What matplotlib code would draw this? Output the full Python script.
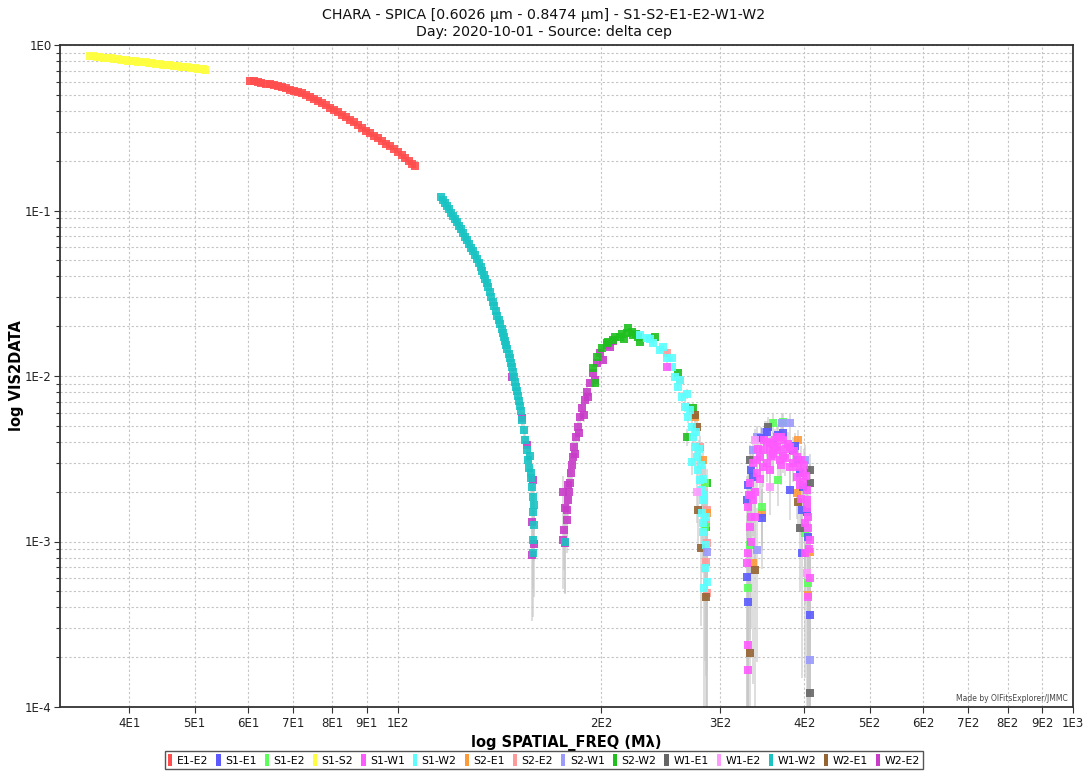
import math

import matplotlib
matplotlib.use("Agg")
import matplotlib.pyplot as plt
from matplotlib.patches import Patch
from matplotlib.ticker import FixedLocator, FuncFormatter, LogLocator, NullFormatter

# Squared visibilities of delta cep, CHARA/SPICA 2020-10-01, per baseline
# (spatial frequency in Mlambda, VIS2DATA)
S1_S2_FREQ = [35.0, 35.8, 36.7, 37.6, 38.5, 39.4, 40.3, 41.3, 42.3, 43.3, 44.4,
              45.5, 46.6, 47.7, 48.8, 50.0, 51.2, 51.9,
              35.4, 36.2, 37.1, 38.0, 38.9, 39.8, 40.8, 41.8, 42.8, 43.8, 44.9,
              46.0, 47.1, 48.2, 49.4, 50.6, 51.5]
S1_S2_VIS2 = [0.858, 0.849, 0.839, 0.830, 0.820, 0.811, 0.802, 0.793, 0.784, 0.775,
              0.767, 0.757, 0.749, 0.740, 0.732, 0.724, 0.716, 0.711,
              0.853, 0.844, 0.835, 0.825, 0.815, 0.806, 0.797, 0.788, 0.779, 0.771,
              0.762, 0.753, 0.745, 0.736, 0.728, 0.720, 0.713]

E1_E2_FREQ = [60.4, 62.0, 63.7, 65.5, 67.3, 69.2, 71.1, 73.1, 75.1, 77.2, 79.3,
              81.5, 83.7, 86.1, 88.4, 90.9, 93.4, 96.0, 98.6, 101.4, 103.8, 106.0,
              61.2, 62.8, 64.6, 66.4, 68.2, 70.1, 72.1, 74.1, 76.1, 78.2, 80.4,
              82.6, 84.9, 87.2, 89.6, 92.1, 94.7, 97.3, 100.0, 102.6, 104.9]
E1_E2_VIS2 = [0.609, 0.598, 0.585, 0.571, 0.554, 0.538, 0.520, 0.499, 0.475, 0.449,
              0.419, 0.392, 0.366, 0.343, 0.314, 0.293, 0.273, 0.254, 0.236, 0.216,
              0.199, 0.186,
              0.603, 0.592, 0.578, 0.563, 0.546, 0.529, 0.510, 0.487, 0.462, 0.434,
              0.405, 0.379, 0.354, 0.328, 0.303, 0.283, 0.263, 0.245, 0.226, 0.207,
              0.192]

W1_W2_FREQ = [115.8, 117.4, 119.0, 120.6, 122.3, 124.0, 125.7, 127.4, 129.1, 130.9,
              132.7, 134.1, 135.5, 136.8, 138.3, 139.7, 141.1, 142.6, 143.5, 144.5,
              146.0, 147.0, 148.0, 149.0, 150.0, 151.1, 152.1, 152.6, 153.7, 154.2,
              155.2, 155.8, 156.3, 157.4, 157.9, 158.5, 159.0, 158.5, 159.0, 158.5,
              158.5, 176.8,
              116.6, 118.2, 119.8, 121.4, 123.1, 124.8, 126.5, 128.2, 130.0, 131.8,
              133.4, 134.8, 136.1, 137.5, 139.0, 140.4, 141.8, 143.0, 144.0, 145.2,
              146.5, 147.5, 148.5, 149.5, 150.5, 151.6, 156.8, 157.6]
W1_W2_VIS2 = [0.1207, 0.1110, 0.1021, 0.0926, 0.0852, 0.0773, 0.0692, 0.0627, 0.0569,
              0.0509, 0.0456, 0.0408, 0.0365, 0.0322, 0.0280, 0.0247, 0.0218, 0.0192,
              0.0172, 0.0154, 0.0136, 0.01198, 0.01057, 0.00920, 0.00812, 0.00706,
              0.00614, 0.00542, 0.00472, 0.00410, 0.00357, 0.00311, 0.00278, 0.00242,
              0.00213, 0.00186, 0.00166, 0.00151, 0.00126, 0.00102, 0.000852, 0.00099,
              0.1157, 0.1065, 0.0972, 0.0888, 0.0811, 0.0732, 0.0659, 0.0597, 0.0538,
              0.0482, 0.0431, 0.0386, 0.0343, 0.0300, 0.0263, 0.0232, 0.0205, 0.0182,
              0.0163, 0.0145, 0.0128, 0.0113, 0.0099, 0.0086, 0.0076, 0.0066,
              0.0033, 0.0026]

W2_E2_FREQ = [147.4, 152.5, 155.4, 158.6, 157.8, 159.2, 158.3,
              175.4, 175.8, 176.2, 176.8, 177.8, 178.2, 178.8, 179.4, 179.9, 181.3,
              181.9, 182.5, 183.6, 184.7, 186.1, 187.6, 189.3, 190.4, 192.5, 194.7,
              197.4, 199.2, 203.8, 208.4,
              177.0, 178.5, 180.5, 183.0, 185.5, 188.5, 191.5, 195.8, 201.0, 206.0]
W2_E2_VIS2 = [0.0099, 0.00555, 0.00383, 0.00235, 0.00132, 0.00096, 0.00083,
              0.0020, 0.00102, 0.00117, 0.00098, 0.00135, 0.00155, 0.00178, 0.0020,
              0.00225, 0.0029, 0.00325, 0.00374, 0.0043, 0.00494, 0.00568, 0.00638,
              0.00716, 0.00804, 0.00903, 0.01038, 0.01193, 0.01371, 0.01539, 0.01634,
              0.0016, 0.0022, 0.0026, 0.0034, 0.0045, 0.0058, 0.0075, 0.0095, 0.0125,
              0.0150]

S2_W2_FREQ = [194.7, 195.8, 197.0, 200.3, 203.8, 208.4, 213.3, 218.2, 219.4, 223.2,
              227.0, 228.3, 240.3, 260.2, 267.8, 273.9, 286.7, 286.0,
              205.0, 210.0, 215.0, 222.0, 225.0, 216.0]
S2_W2_VIS2 = [0.01113, 0.00903, 0.01308, 0.0147, 0.01576, 0.0165, 0.01728, 0.01811,
              0.01941, 0.01769, 0.01728, 0.01612, 0.01728, 0.01038, 0.0043, 0.00638,
              0.00225, 0.00123,
              0.0160, 0.0172, 0.0180, 0.0185, 0.0179, 0.0168]

S1_W2_FREQ = [228.3, 233.6, 238.9, 244.4, 250.1, 254.4, 257.3, 260.2, 263.3, 266.2,
              269.2, 272.4, 273.9, 275.4, 272.4, 277.0, 278.5, 280.2, 281.8, 283.4,
              282.4, 283.4, 282.8, 285.7, 285.0, 286.7, 284.0,
              236.0, 247.0, 255.0, 262.0, 268.0, 271.0, 276.0, 279.0, 281.0, 283.0,
              284.0, 286.0]
S1_W2_VIS2 = [0.01769, 0.0169, 0.01576, 0.01436, 0.01279, 0.01138, 0.0099, 0.00862,
              0.0075, 0.00652, 0.00568, 0.00494, 0.0043, 0.00374, 0.00304, 0.00325,
              0.0027, 0.00235, 0.00205, 0.00178, 0.00148, 0.00129, 0.001146, 0.000953,
              0.000689, 0.000571, 0.000521,
              0.0168, 0.0150, 0.0128, 0.0095, 0.0078, 0.0062, 0.0046, 0.0036, 0.0029,
              0.0024, 0.0019, 0.0014]

S2_E2_FREQ = [250.1, 261.8, 280.2, 285.0, 286.7, 286.0, 286.7, 285.7, 286.7]
S2_E2_VIS2 = [0.01371, 0.00946, 0.00374, 0.00225, 0.00155, 0.00129, 0.000975,
              0.000755, 0.000486]

S1_W1_FREQ = [250.1, 340.0, 347.7, 355.8, 363.9, 372.2, 380.8, 389.6, 398.5, 403.1,
              405.4, 407.7, 407.7, 405.4, 332.3, 330.4, 332.3, 330.4, 328.6, 330.4,
              330.4, 347.7, 368.1, 389.6, 355.8, 380.8, 403.1, 336.1, 338.0, 400.8,
              365.9, 343.9, 359.7, 372.2, 385.1, 351.8, 394.0, 343.9, 338.0, 361.0,
              376.0, 352.0, 392.0, 398.0, 334.0, 405.0, 369.0, 357.0,
              336.0, 342.0, 349.0, 356.0, 362.0, 370.0, 378.0, 386.0, 395.0, 399.0,
              402.0, 404.0, 331.0, 334.0, 340.0, 396.0, 401.0, 406.0, 333.0, 364.0,
              374.0]
S1_W1_VIS2 = [0.0114, 0.00311, 0.00357, 0.00392, 0.0043, 0.0041, 0.00374, 0.00325,
              0.00258, 0.00178, 0.00141, 0.00102, 0.000599, 0.000464, 0.00225, 0.00162,
              0.00123, 0.000849, 0.000738, 0.000237, 0.000167, 0.00283, 0.00311,
              0.00246, 0.0027, 0.00283, 0.00205, 0.00178, 0.00141, 0.000849, 0.00357,
              0.00325, 0.0034, 0.0033, 0.0030, 0.0030, 0.0022, 0.0024, 0.0020, 0.0038,
              0.0036, 0.0040, 0.0028, 0.0023, 0.0019, 0.0012, 0.0029, 0.0033,
              0.0030, 0.0036, 0.0041, 0.0036, 0.0041, 0.0043, 0.0039, 0.0035, 0.0031,
              0.0029, 0.0025, 0.0016, 0.0019, 0.0014, 0.0026, 0.0018, 0.0013, 0.0009,
              0.0010, 0.0037, 0.0032]

S1_E1_FREQ = [351.8, 385.1, 398.5, 396.3, 405.4, 407.7, 328.6, 328.6, 330.4, 345.8,
              336.1, 380.8, 396.3, 372.2, 359.0, 392.0, 333.0,
              345.0, 388.0, 394.0, 330.0, 404.0, 366.0]
S1_E1_VIS2 = [0.00461, 0.00357, 0.00214, 0.00155, 0.00107, 0.00036, 0.00178,
              0.000613, 0.000433, 0.00138, 0.00246, 0.00205, 0.000849, 0.0045,
              0.0039, 0.0031, 0.0027,
              0.0042, 0.0038, 0.0026, 0.0022, 0.0015, 0.0044]

S2_W1_FREQ = [286.7, 340.0, 370.2, 380.8, 349.7, 340.0, 407.7, 336.1, 400.8]
S2_W1_VIS2 = [0.000868, 0.0043, 0.00518, 0.00518, 0.00461, 0.000888, 0.000192,
              0.00357, 0.00311]

S1_E2_FREQ = [285.0, 285.0, 359.7, 372.2, 365.9, 345.8, 330.4, 405.4, 400.8, 332.3]
S1_E2_VIS2 = [0.00225, 0.00123, 0.00518, 0.00529, 0.00235, 0.00162, 0.000521,
              0.000559, 0.00112, 0.000953]

S2_E1_FREQ = [283.4, 286.7, 275.4, 391.8, 336.1, 405.4, 389.6, 407.7, 345.8]
S2_E1_VIS2 = [0.00311, 0.00148, 0.00568, 0.0041, 0.000738, 0.000475, 0.00196,
              0.000868, 0.00148]

W1_E1_FREQ = [353.7, 407.7, 407.7, 394.0, 407.7, 332.3]
W1_E1_VIS2 = [0.00494, 0.0027, 0.00225, 0.0012, 0.000121, 0.00311]

W2_E1_FREQ = [275.4, 277.0, 278.5, 281.0, 285.7, 332.3, 338.0, 391.8]
W2_E1_VIS2 = [0.00585, 0.00494, 0.00155, 0.00091, 0.000464, 0.000211, 0.000673,
              0.00174]

W1_E2_FREQ = [277.0, 338.0, 359.7, 355.8, 403.1]
W1_E2_VIS2 = [0.0020, 0.0041, 0.00325, 0.00214, 0.000643]

# legend order
BASELINES = ["E1-E2", "S1-E1", "S1-E2", "S1-S2", "S1-W1", "S1-W2", "S2-E1", "S2-E2",
             "S2-W1", "S2-W2", "W1-E1", "W1-E2", "W1-W2", "W2-E1", "W2-E2"]
COLORS = ["#ff4d4d", "#5a5aff", "#5aff5a", "#ffff40", "#ff5aff", "#5affff", "#ff9a3a",
          "#ff9a9a", "#9a9aff", "#1ec01e", "#666666", "#ff9aff", "#19c3c3", "#966432",
          "#c83cc8"]
# VIS2 error per baseline
VIS2_ERR = [0.0005, 0.0007, 0.0007, 0.0005, 0.0007, 0.0005, 0.0006, 0.0006,
            0.0007, 0.0005, 0.0007, 0.0007, 0.0005, 0.0006, 0.0005]

DATA = {
    "E1-E2": (E1_E2_FREQ, E1_E2_VIS2), "S1-E1": (S1_E1_FREQ, S1_E1_VIS2),
    "S1-E2": (S1_E2_FREQ, S1_E2_VIS2), "S1-S2": (S1_S2_FREQ, S1_S2_VIS2),
    "S1-W1": (S1_W1_FREQ, S1_W1_VIS2), "S1-W2": (S1_W2_FREQ, S1_W2_VIS2),
    "S2-E1": (S2_E1_FREQ, S2_E1_VIS2), "S2-E2": (S2_E2_FREQ, S2_E2_VIS2),
    "S2-W1": (S2_W1_FREQ, S2_W1_VIS2), "S2-W2": (S2_W2_FREQ, S2_W2_VIS2),
    "W1-E1": (W1_E1_FREQ, W1_E1_VIS2), "W1-E2": (W1_E2_FREQ, W1_E2_VIS2),
    "W1-W2": (W1_W2_FREQ, W1_W2_VIS2), "W2-E1": (W2_E1_FREQ, W2_E1_VIS2),
    "W2-E2": (W2_E2_FREQ, W2_E2_VIS2),
}
# painting order (last on top)
DRAW_ORDER = ["W2-E2", "S2-W2", "S2-E2", "S2-E1", "W2-E1", "S1-E2", "S1-W2", "W1-W2",
              "E1-E2", "S1-S2", "W1-E1", "S2-W1", "S1-E1", "W1-E2", "S1-W1"]

XTICKS = [40, 50, 60, 70, 80, 90, 100, 200, 300, 400, 500, 600, 700, 800, 900, 1000]


def sci_label(v, _pos=None):
    e = int(math.floor(math.log10(v) + 1e-9))
    m = int(round(v / 10 ** e))
    return f"{m}E{e}"


fig = plt.figure(figsize=(10.88, 7.73), dpi=100)
ax = fig.add_axes([60 / 1088, 1 - 707 / 773, 1013 / 1088, 662 / 773])
ax.set_xscale("log")
ax.set_yscale("log")
ax.set_xlim(31.6, 1000)
ax.set_ylim(1e-4, 1)

color_of = dict(zip(BASELINES, COLORS))
err_of = dict(zip(BASELINES, VIS2_ERR))

for name in DRAW_ORDER:
    freq, vis2 = DATA[name]
    err = err_of[name]
    ax.errorbar(freq, vis2, yerr=[err] * len(vis2), fmt="none", ecolor="#c8c8c8",
                elinewidth=1.2, alpha=0.7, zorder=1)
for i, name in enumerate(DRAW_ORDER):
    freq, vis2 = DATA[name]
    ax.plot(freq, vis2, ls="none", marker="s", ms=5.6, mew=0,
            color=color_of[name], alpha=0.9, zorder=2 + i * 0.01)

# axes, ticks and grid
ax.xaxis.set_major_locator(FixedLocator(XTICKS))
ax.xaxis.set_major_formatter(FuncFormatter(sci_label))
ax.xaxis.set_minor_locator(FixedLocator([]))
ax.yaxis.set_major_locator(LogLocator(base=10, numticks=10))
ax.yaxis.set_major_formatter(FuncFormatter(sci_label))
ax.yaxis.set_minor_locator(LogLocator(base=10, subs=range(2, 10), numticks=20))
ax.yaxis.set_minor_formatter(NullFormatter())
ax.tick_params(axis="both", which="major", labelsize=8.5, length=4, width=0.8,
               color="#333333", labelcolor="#222222", direction="out", pad=2)
ax.tick_params(axis="y", which="minor", length=3, width=0.8, color="#333333")
ax.tick_params(axis="x", pad=3)
ax.grid(True, which="major", axis="x", ls=(0, (2, 2)), color="#c4c4c4", lw=0.8)
ax.grid(True, which="both", axis="y", ls=(0, (2, 2)), color="#c4c4c4", lw=0.8)
ax.set_axisbelow(True)
for side in ax.spines.values():
    side.set_color("#333333")
    side.set_linewidth(1.3)

ax.set_xlabel("log SPATIAL_FREQ (M\u03bb)", fontsize=10.5, fontweight="bold", labelpad=4)
ax.set_ylabel("log VIS2DATA", fontsize=10.5, fontweight="bold", labelpad=1)

fig.text(0.5, 1 - 15 / 773, "CHARA - SPICA [0.6026 \u00b5m - 0.8474 \u00b5m] - S1-S2-E1-E2-W1-W2",
         ha="center", va="center", fontsize=10.2, color="#111111")
fig.text(0.5, 1 - 32 / 773, "Day: 2020-10-01 - Source: delta cep",
         ha="center", va="center", fontsize=10.2, color="#111111")

ax.text(0.995, 0.006, "Made by OIFitsExplorer/JMMC", transform=ax.transAxes,
        ha="right", va="bottom", fontsize=5.5, color="#444444")

handles = [Patch(facecolor=c, edgecolor="none", label=n) for n, c in zip(BASELINES, COLORS)]
leg = fig.legend(handles=handles, loc="center", bbox_to_anchor=(0.5, 1 - 760 / 773),
                 ncol=len(BASELINES), fontsize=7.8, handlelength=0.4, handleheight=1.3,
                 handletextpad=0.4, columnspacing=0.75, borderpad=0.3,
                 fancybox=False, framealpha=1)
leg.get_frame().set_edgecolor("#555555")
leg.get_frame().set_linewidth(1.0)

fig.savefig("out.png", dpi=100)
